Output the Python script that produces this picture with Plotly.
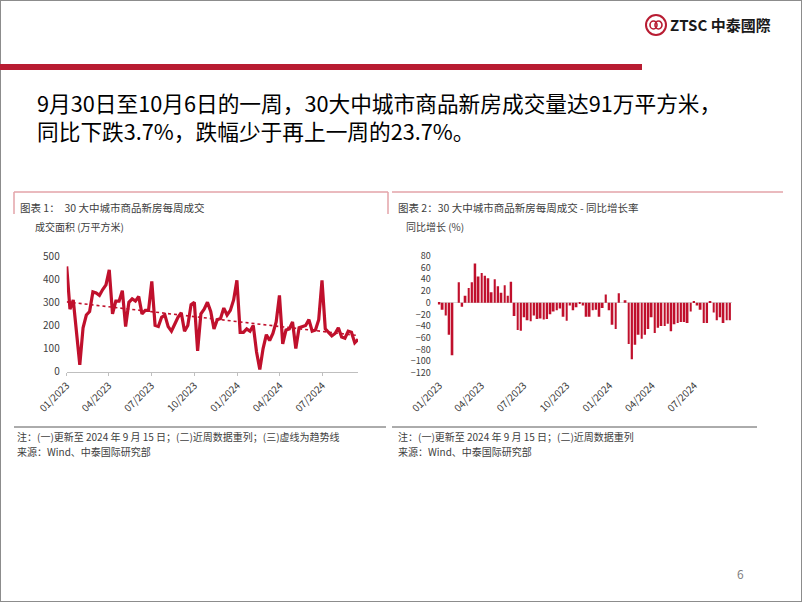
import numpy as np
import pandas as pd
import plotly.graph_objects as go

W, H = 802, 602

# ---------------- data ----------------
week_start = "2023-01-01"
n_weeks = 90
area_values = [455, 270, 310, 180, 30, 190, 245, 260, 345, 340,
               330, 355, 375, 440, 250, 305, 305, 350, 195, 300,
               315, 305, 325, 250, 265, 265, 390, 200, 195, 235,
               245, 195, 175, 205, 235, 255, 175, 200, 290, 300,
               90, 250, 270, 300, 260, 185, 225, 230, 275, 245,
               265, 310, 395, 170, 170, 185, 175, 200, 85, 10,
               100, 160, 135, 165, 215, 330, 120, 180, 185, 215,
               100, 190, 195, 200, 225, 175, 180, 225, 395, 185,
               170, 155, 165, 190, 150, 145, 175, 170, 125, 140]
yoy_values = [-3, -12, -22, -55, -90, 0, 35, -7, 12, 25,
              35, 67, 45, 51, 46, 42, 18, 40, 28, 17,
              30, 12, 36, -23, -47, -48, -25, -30, -32, -22,
              -28, -27, -29, -28, -20, -15, -13, -10, -24, -31,
              -5, -13, -8, -2, -5, -24, -24, -13, -12, -24,
              -9, 14, -13, -38, -45, 16, 0, 4, -71, -97,
              -72, -55, -62, -55, -45, -25, -52, -43, -40, -40,
              -36, -49, -37, -35, -33, -33, -35, -15, 2, -5,
              -12, -35, -35, 2, -17, -30, -25, -35, -30, -30]
tick_dates = ["2023-01-01", "2023-04-01", "2023-07-01", "2023-10-01",
              "2024-01-01", "2024-04-01", "2024-07-01"]
tick_labels = ["01/2023", "04/2023", "07/2023", "10/2023",
               "01/2024", "04/2024", "07/2024"]
area_ticks = [0, 100, 200, 300, 400, 500]
yoy_ticks = [80, 60, 40, 20, 0, -20, -40, -60, -80, -100, -120]

dates = pd.date_range(week_start, periods=n_weeks, freq="7D")

# linear trend line computed from the series
idx = np.arange(len(area_values))
coef = np.polyfit(idx, np.array(area_values, dtype=float), 1)
trend = np.polyval(coef, idx)

RED = "#C0102C"
TXT = "#404040"
FONT = "Noto Sans CJK SC"


def px(x):
    return x / W


def py(y):
    return 1 - y / H


fig = go.Figure()

fig.add_trace(go.Scatter(x=dates, y=area_values, mode="lines",
                         line=dict(color=RED, width=3.2), xaxis="x", yaxis="y",
                         showlegend=False, hoverinfo="skip"))
fig.add_trace(go.Scatter(x=dates, y=trend, mode="lines",
                         line=dict(color=RED, width=1.6, dash="dot"), xaxis="x", yaxis="y",
                         showlegend=False, hoverinfo="skip"))
fig.add_trace(go.Bar(x=dates, y=yoy_values, marker=dict(color=RED, line=dict(width=0)),
                     width=4.0 * 86400000, xaxis="x2", yaxis="y2",
                     showlegend=False, hoverinfo="skip"))

tickfont = dict(family=FONT, size=10, color=TXT)
tickfont_small = dict(family=FONT, size=9, color=TXT)

fig.update_layout(
    width=W, height=H,
    margin=dict(l=0, r=0, t=0, b=0, pad=0),
    paper_bgcolor="white", plot_bgcolor="rgba(0,0,0,0)",
    font=dict(family=FONT, color=TXT),
    xaxis=dict(domain=[px(66.7), px(358)], type="date", automargin=False,
               range=[dates[0], dates[-1]],
               tickvals=tick_dates, ticktext=tick_labels, tickangle=-45,
               tickfont=tickfont, showgrid=False, zeroline=False,
               showline=True, linecolor="#BFBFBF", linewidth=1,
               ticks="outside", ticklen=3, tickcolor="#BFBFBF"),
    yaxis=dict(domain=[py(371.7), py(256)], range=[0, 500], automargin=False,
               tickvals=area_ticks, tickfont=tickfont, showgrid=False,
               zeroline=False, showline=False, ticks="", ticklabelstandoff=6),
    xaxis2=dict(domain=[px(437.7), px(731.6)], type="date", anchor="y2", automargin=False,
                range=[dates[0] - pd.Timedelta(days=3.5), dates[-1] + pd.Timedelta(days=3.5)],
                tickvals=tick_dates, ticktext=tick_labels, tickangle=-45,
                tickfont=tickfont, showgrid=False, zeroline=False,
                showline=False, ticks="", ticklabelstandoff=4),
    yaxis2=dict(domain=[py(372.7), py(256)], range=[-120, 80], anchor="x2", automargin=False,
                tickvals=yoy_ticks, tickfont=tickfont_small, showgrid=False,
                zeroline=True, zerolinecolor="#D9D9D9", zerolinewidth=1,
                showline=False, ticks="", ticklabelstandoff=6),
    bargap=0.4,
)

shapes = []
# outer frame
shapes.append(dict(type="rect", xref="paper", yref="paper", x0=0, x1=1, y0=0, y1=1,
                   line=dict(color="#8C8C8C", width=2)))
# red header bar
shapes.append(dict(type="rect", xref="paper", yref="paper", x0=px(0), x1=px(642),
                   y0=py(70), y1=py(64), line=dict(width=0), fillcolor="#B81C32"))
# logo circle
shapes.append(dict(type="circle", xref="paper", yref="paper",
                   x0=px(646), x1=px(666), y0=py(35), y1=py(15),
                   line=dict(color="#B81C32", width=2)))
shapes.append(dict(type="circle", xref="paper", yref="paper",
                   x0=px(650), x1=px(657), y0=py(29), y1=py(21),
                   line=dict(color="#B81C32", width=1.6)))
shapes.append(dict(type="circle", xref="paper", yref="paper",
                   x0=px(655), x1=px(662), y0=py(29), y1=py(21),
                   line=dict(color="#B81C32", width=1.6)))
# chart boxes (top pink lines and short sides)
PINK = "#E3A3A8"
shapes.append(dict(type="line", xref="paper", yref="paper", x0=px(14), x1=px(388),
                   y0=py(192), y1=py(192), line=dict(color=PINK, width=1.5)))
shapes.append(dict(type="line", xref="paper", yref="paper", x0=px(14), x1=px(14),
                   y0=py(192), y1=py(214), line=dict(color=PINK, width=1.5)))
shapes.append(dict(type="line", xref="paper", yref="paper", x0=px(388), x1=px(388),
                   y0=py(192), y1=py(214), line=dict(color=PINK, width=1.5)))
shapes.append(dict(type="line", xref="paper", yref="paper", x0=px(392), x1=px(783),
                   y0=py(192), y1=py(192), line=dict(color=PINK, width=1.5)))
# bottom separators
shapes.append(dict(type="line", xref="paper", yref="paper", x0=px(14), x1=px(386),
                   y0=py(427), y1=py(427), line=dict(color="#595959", width=1)))
shapes.append(dict(type="line", xref="paper", yref="paper", x0=px(392), x1=px(757),
                   y0=py(427), y1=py(427), line=dict(color="#595959", width=1)))
fig.update_layout(shapes=shapes)


def text(x, y, s, size, color=TXT, family=FONT, xanchor="left", align="left"):
    fig.add_annotation(x=px(x), y=py(y), xref="paper", yref="paper", text=s,
                       showarrow=False, xanchor=xanchor, yanchor="middle", align=align,
                       font=dict(size=size, color=color, family=family))


text(668, 25, "<b>ZTSC 中泰國際</b>", 15, color="#1A1A1A")
text(35, 116.5,
     "9月30日至10月6日的一周，30大中城市商品新房成交量达91万平方米，<br>"
     "同比下跌3.7%，跌幅少于再上一周的23.7%。", 21.7, color="#000000")

text(18, 207, "图表 1：  30 大中城市商品新房每周成交", 10.5)
text(33, 226, "成交面积 (万平方米)", 10)
text(396, 207, "图表 2：30 大中城市商品新房每周成交 - 同比增长率", 10.5)
text(404, 226, "同比增长 (%)", 10)

text(15, 436, "注：(一)更新至 2024 年 9 月 15 日；(二)近周数据重列；(三)虚线为趋势线", 10)
text(15, 451, "来源：Wind、中泰国际研究部", 10)
text(396, 436, "注：(一)更新至 2024 年 9 月 15 日；(二)近周数据重列", 10)
text(396, 451, "来源：Wind、中泰国际研究部", 10)

text(735, 573, "6", 12, color="#7F7F7F")

fig.write_html("out.html")
